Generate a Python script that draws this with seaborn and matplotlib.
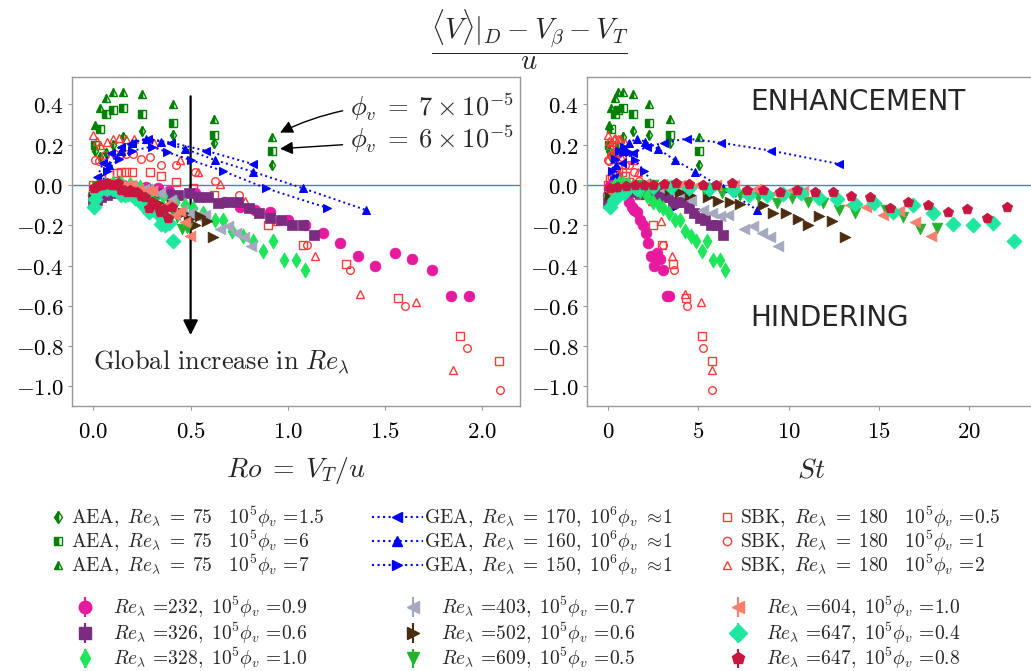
import numpy as np
import matplotlib
matplotlib.use("Agg")
import matplotlib.pyplot as plt
import seaborn as sns
from matplotlib.lines import Line2D
from matplotlib.ticker import FixedLocator, FuncFormatter

sns.set_theme(style="ticks", rc={"axes.edgecolor": "#999999", "xtick.color": "#999999",
                                 "ytick.color": "#999999", "xtick.labelcolor": "black",
                                 "ytick.labelcolor": "black"})
plt.rcParams["mathtext.fontset"] = "cm"
plt.rcParams["font.family"] = ["DejaVu Sans"]

# ---------------- data ----------------
# AEA, Re_lambda = 75 (three volume fractions share the same Ro / St)
aea_ro = [0.008, 0.034, 0.065, 0.10, 0.15, 0.25, 0.41, 0.62, 0.92]
aea_st = [0.04, 0.19, 0.36, 0.55, 0.83, 1.38, 2.26, 3.41, 5.06]
aea15_y = [0.17, 0.14, 0.16, 0.20, 0.24, 0.27, 0.25, 0.21, 0.10]
aea6_y = [0.20, 0.28, 0.35, 0.37, 0.38, 0.35, 0.31, 0.25, 0.17]
aea7_y = [0.30, 0.38, 0.43, 0.46, 0.46, 0.45, 0.40, 0.33, 0.24]

# GEA
gea170_ro = [0.02, 0.05, 0.09, 0.14, 0.20, 0.28, 0.40, 0.58, 0.82]
gea170_st = [0.31, 0.78, 1.40, 2.18, 3.12, 4.37, 6.24, 9.05, 12.8]
gea170_y = [0.04, 0.11, 0.16, 0.19, 0.21, 0.23, 0.21, 0.17, 0.104]
gea160_ro = [0.03, 0.08, 0.14, 0.20, 0.27, 0.35, 0.47, 0.625, 0.82, 1.08, 1.40]
gea160_st = [0.18, 0.47, 0.83, 1.18, 1.59, 2.07, 2.77, 3.69, 4.84, 6.37, 8.26]
gea160_y = [0.02, 0.10, 0.17, 0.21, 0.23, 0.215, 0.18, 0.124, 0.066, -0.017, -0.124]
gea150_ro = [0.03, 0.07, 0.13, 0.20, 0.30, 0.38, 0.50, 0.665, 0.89, 1.20]
gea150_st = [0.09, 0.21, 0.39, 0.60, 0.90, 1.14, 1.50, 2.00, 2.67, 3.60]
gea150_y = [-0.02, 0.07, 0.13, 0.17, 0.19, 0.163, 0.124, 0.07, -0.017, -0.113]

# SBK, Re_lambda = 180
sbk05_ro = [0.0, 0.04, 0.08, 0.12, 0.14, 0.17, 0.20, 0.29, 0.35, 0.425, 0.51, 0.62, 0.90, 1.08, 1.30,
            1.565, 1.886, 2.085]
sbk05_st = [0.0, 0.11, 0.22, 0.33, 0.39, 0.47, 0.55, 0.80, 0.96, 1.17, 1.40, 1.71, 2.48, 2.97, 3.58,
            4.30, 5.19, 5.73]
sbk05_y = [0.0, 0.03, 0.05, 0.058, 0.065, 0.066, 0.066, 0.063, 0.046, 0.013, -0.017, -0.05, -0.20,
           -0.30, -0.39, -0.56, -0.75, -0.873]
sbk1_ro = [0.008, 0.03, 0.06, 0.11, 0.14, 0.17, 0.205, 0.245, 0.29, 0.35, 0.425, 0.52, 0.625, 0.75,
           1.10, 1.32, 1.60, 1.92, 2.09]
sbk1_st = [0.02, 0.08, 0.17, 0.30, 0.39, 0.47, 0.56, 0.67, 0.80, 0.96, 1.17, 1.43, 1.72, 2.06, 3.03,
           3.63, 4.40, 5.28, 5.75]
sbk1_y = [0.124, 0.12, 0.15, 0.155, 0.155, 0.155, 0.155, 0.13, 0.14, 0.10, 0.10, 0.066, 0.02, -0.05,
          -0.30, -0.42, -0.60, -0.81, -1.02]
sbk2_ro = [0.0, 0.02, 0.035, 0.068, 0.10, 0.13, 0.17, 0.21, 0.31, 0.445, 0.54, 0.65, 0.78, 0.946,
           1.14, 1.37, 1.66, 1.85]
sbk2_st = [0.0, 0.06, 0.11, 0.21, 0.31, 0.40, 0.53, 0.65, 0.96, 1.38, 1.67, 2.02, 2.42, 2.93, 3.53,
           4.25, 5.15, 5.74]
sbk2_y = [0.25, 0.22, 0.20, 0.215, 0.23, 0.235, 0.23, 0.23, 0.207, 0.124, 0.066, 0.003, -0.08, -0.18,
          -0.35, -0.54, -0.58, -0.92]

# DNS runs
re232_ro = [0.0, 0.03, 0.06, 0.10, 0.15, 0.21, 0.27, 0.33, 0.39, 0.52, 0.67, 0.755, 0.83, 0.91, 1.00,
            1.09, 1.18, 1.27, 1.36, 1.45, 1.55, 1.64, 1.74, 1.84, 1.93]
re232_st = [0.0, 0.05, 0.11, 0.18, 0.26, 0.37, 0.48, 0.58, 0.69, 0.92, 1.18, 1.33, 1.46, 1.60, 1.76,
            1.92, 2.08, 2.24, 2.39, 2.55, 2.73, 2.89, 3.06, 3.24, 3.40]
re232_y = [-0.05, -0.02, -0.005, 0.0, 0.0, -0.005, -0.008, -0.017, -0.028, -0.04, -0.083, -0.11,
           -0.124, -0.136, -0.174, -0.20, -0.237, -0.286, -0.35, -0.40, -0.34, -0.367, -0.42, -0.55, -0.55]

re326_ro = [0.0, 0.02, 0.04, 0.07, 0.10, 0.14, 0.18, 0.22, 0.27, 0.32, 0.38, 0.437, 0.49, 0.54, 0.59,
            0.64, 0.69, 0.745, 0.80, 0.853, 0.908, 0.963, 1.02, 1.077, 1.135]
re326_st = [0.0, 0.11, 0.22, 0.39, 0.56, 0.78, 1.01, 1.23, 1.51, 1.79, 2.13, 2.45, 2.74, 3.02, 3.30,
            3.58, 3.86, 4.17, 4.48, 4.78, 5.08, 5.39, 5.71, 6.03, 6.36]
re326_y = [-0.09, -0.075, -0.06, -0.05, -0.04, -0.035, -0.03, -0.03, -0.035, -0.04, -0.045, -0.05,
           -0.041, -0.061, -0.061, -0.088, -0.083, -0.083, -0.116, -0.137, -0.162, -0.174, -0.20, -0.20, -0.248]

re328_ro = [0.0, 0.03, 0.06, 0.10, 0.14, 0.19, 0.24, 0.30, 0.36, 0.42, 0.47, 0.51, 0.565, 0.625, 0.665,
            0.715, 0.77, 0.82, 0.87, 0.925, 0.98, 1.04, 1.09]
re328_st = [0.0, 0.18, 0.36, 0.60, 0.83, 1.13, 1.43, 1.79, 2.14, 2.50, 2.80, 3.03, 3.36, 3.72, 3.96,
            4.25, 4.58, 4.88, 5.18, 5.50, 5.83, 6.19, 6.49]
re328_y = [-0.05, -0.02, 0.0, 0.01, 0.01, 0.005, -0.01, -0.03, -0.055, -0.083, -0.10, -0.113, -0.14,
           -0.174, -0.174, -0.228, -0.253, -0.28, -0.326, -0.28, -0.37, -0.372, -0.42]

re403_ro = [0.009, 0.043, 0.086, 0.138, 0.198, 0.259, 0.302, 0.345, 0.397, 0.455, 0.495, 0.534, 0.574,
            0.649, 0.690, 0.733, 0.773, 0.813]
re403_st = [0.1, 0.5, 1.0, 1.6, 2.3, 3.0, 3.5, 4.0, 4.6, 5.28, 5.74, 6.2, 6.66, 7.53, 8.0, 8.5, 8.97, 9.43]
re403_y = [-0.06, -0.03, -0.01, -0.005, -0.01, -0.02, -0.03, -0.041, -0.075, -0.124, -0.137, -0.154,
           -0.149, -0.22, -0.204, -0.237, -0.26, -0.303]

re502_ro = [0.005, 0.028, 0.056, 0.089, 0.127, 0.161, 0.187, 0.213, 0.261, 0.286, 0.317, 0.343, 0.402,
            0.430, 0.463, 0.493, 0.521, 0.549, 0.582, 0.615]
re502_st = [0.1, 0.6, 1.2, 1.9, 2.7, 3.43, 3.98, 4.54, 5.55, 6.1, 6.76, 7.3, 8.57, 9.15, 9.86, 10.5,
            11.1, 11.7, 12.4, 13.1]
re502_y = [-0.05, -0.02, -0.01, -0.01, -0.015, -0.025, -0.037, -0.05, -0.058, -0.078, -0.083, -0.094,
           -0.099, -0.14, -0.14, -0.17, -0.20, -0.154, -0.179, -0.256]

re609_ro = [0.003, 0.021, 0.042, 0.066, 0.089, 0.116, 0.139, 0.166, 0.192, 0.218, 0.246, 0.268, 0.292,
            0.313, 0.337, 0.361, 0.405, 0.430, 0.455, 0.479]
re609_st = [0.1, 0.8, 1.6, 2.5, 3.4, 4.4, 5.3, 6.3, 7.3, 8.3, 9.34, 10.2, 11.1, 11.9, 12.8, 13.7, 15.4,
            16.35, 17.3, 18.2]
re609_y = [-0.03, -0.01, 0.0, 0.0, -0.005, -0.01, -0.02, -0.04, -0.05, -0.06, -0.088, -0.066, -0.083,
           -0.088, -0.124, -0.137, -0.124, -0.16, -0.22, -0.215]

re604_ro = [0.003, 0.014, 0.033, 0.056, 0.083, 0.111, 0.139, 0.167, 0.194, 0.228, 0.258, 0.283, 0.300,
            0.372, 0.397, 0.422, 0.447, 0.472, 0.497]
re604_st = [0.1, 0.5, 1.2, 2.0, 3.0, 4.0, 5.0, 6.0, 7.0, 8.2, 9.3, 10.2, 10.8, 13.4, 14.3, 15.2, 16.1,
            17.0, 17.9]
re604_y = [-0.03, -0.01, 0.0, 0.005, 0.005, 0.0, 0.0, 0.0, 0.0, -0.02, -0.04, -0.025, -0.03, -0.10,
           -0.108, -0.149, -0.128, -0.182, -0.253]

re647a_ro = [0.002, 0.007, 0.016, 0.029, 0.045, 0.064, 0.082, 0.102, 0.126, 0.142, 0.160, 0.176, 0.194,
             0.213, 0.230, 0.249, 0.267, 0.287, 0.307, 0.327, 0.347, 0.367, 0.387, 0.409]
re647a_st = [0.1, 0.4, 0.9, 1.6, 2.5, 3.5, 4.5, 5.6, 6.94, 7.8, 8.8, 9.7, 10.67, 11.7, 12.67, 13.7,
             14.7, 15.8, 16.9, 18.0, 19.1, 20.2, 21.3, 22.5]
re647a_y = [-0.108, -0.07, -0.04, -0.02, -0.01, -0.01, -0.015, -0.02, -0.025, -0.05, -0.05, -0.045,
            -0.041, -0.066, -0.071, -0.096, -0.091, -0.132, -0.099, -0.137, -0.195, -0.20, -0.19, -0.28]

re647b_ro = [0.002, 0.009, 0.018, 0.027, 0.036, 0.045, 0.056, 0.069, 0.082, 0.095, 0.109, 0.125, 0.140,
             0.156, 0.173, 0.190, 0.208, 0.226, 0.245, 0.264, 0.284, 0.302, 0.322, 0.342, 0.362, 0.382, 0.402]
re647b_st = [0.1, 0.5, 1.0, 1.5, 2.0, 2.5, 3.1, 3.77, 4.5, 5.24, 5.98, 6.85, 7.68, 8.57, 9.5, 10.45,
             11.46, 12.44, 13.45, 14.5, 15.6, 16.6, 17.7, 18.8, 19.9, 21.0, 22.1]
re647b_y = [-0.017, -0.01, -0.005, 0.0, 0.0, 0.0, 0.005, 0.008, 0.005, 0.0, 0.0, 0.008, -0.025, -0.025,
            -0.036, -0.025, -0.036, -0.033, -0.055, -0.058, -0.113, -0.083, -0.099, -0.132, -0.121,
            -0.165, -0.108]

y_ticks = [-1.0, -0.8, -0.6, -0.4, -0.2, 0.0, 0.2, 0.4]
ro_ticks = [0.0, 0.5, 1.0, 1.5, 2.0]
st_ticks = [0, 5, 10, 15, 20]

# ---------------- styles ----------------
AEA_C = "green"
GEA_C = "blue"
SBK_C = "#ff3b3b"

aea_sets = [(aea15_y, "d", r"$\mathrm{AEA},\ Re_\lambda\;=\;75\quad 10^5\phi_v\,=\!1.5$"),
            (aea6_y, "s", r"$\mathrm{AEA},\ Re_\lambda\;=\;75\quad 10^5\phi_v\,=\!6$"),
            (aea7_y, "^", r"$\mathrm{AEA},\ Re_\lambda\;=\;75\quad 10^5\phi_v\,=\!7$")]
gea_sets = [(gea170_ro, gea170_st, gea170_y, "<", r"$\mathrm{GEA},\ Re_\lambda\;=\;170,\ 10^6\phi_v\ \approx\!1$"),
            (gea160_ro, gea160_st, gea160_y, "^", r"$\mathrm{GEA},\ Re_\lambda\;=\;160,\ 10^6\phi_v\ \approx\!1$"),
            (gea150_ro, gea150_st, gea150_y, ">", r"$\mathrm{GEA},\ Re_\lambda\;=\;150,\ 10^6\phi_v\ \approx\!1$")]
sbk_sets = [(sbk05_ro, sbk05_st, sbk05_y, "s", r"$\mathrm{SBK},\ Re_\lambda\;=\;180\quad 10^5\phi_v\,=\!0.5$"),
            (sbk1_ro, sbk1_st, sbk1_y, "o", r"$\mathrm{SBK},\ Re_\lambda\;=\;180\quad 10^5\phi_v\,=\!1$"),
            (sbk2_ro, sbk2_st, sbk2_y, "^", r"$\mathrm{SBK},\ Re_\lambda\;=\;180\quad 10^5\phi_v\,=\!2$")]
dns_sets = [(re232_ro, re232_st, re232_y, "o", "#e6199f", r"$Re_\lambda\,=\!232,\ 10^5\phi_v\,=\!0.9$"),
            (re326_ro, re326_st, re326_y, "s", "#7b2b80", r"$Re_\lambda\,=\!326,\ 10^5\phi_v\,=\!0.6$"),
            (re328_ro, re328_st, re328_y, "d", "#1de65b", r"$Re_\lambda\,=\!328,\ 10^5\phi_v\,=\!1.0$"),
            (re403_ro, re403_st, re403_y, "<", "#a6a8c0", r"$Re_\lambda\,=\!403,\ 10^5\phi_v\,=\!0.7$"),
            (re502_ro, re502_st, re502_y, ">", "#4a2c10", r"$Re_\lambda\,=\!502,\ 10^5\phi_v\,=\!0.6$"),
            (re609_ro, re609_st, re609_y, "v", "#23b22d", r"$Re_\lambda\,=\!609,\ 10^5\phi_v\,=\!0.5$"),
            (re604_ro, re604_st, re604_y, "<", "#f97f6c", r"$Re_\lambda\,=\!604,\ 10^5\phi_v\,=\!1.0$"),
            (re647a_ro, re647a_st, re647a_y, "D", "#1ee8a0", r"$Re_\lambda\,=\!647,\ 10^5\phi_v\,=\!0.4$"),
            (re647b_ro, re647b_st, re647b_y, "p", "#c8163e", r"$Re_\lambda\,=\!647,\ 10^5\phi_v\,=\!0.8$")]

W, H = 1031, 671
fig = plt.figure(figsize=(W / 100, H / 100), dpi=100)
ax1 = fig.add_axes([72 / W, 1 - 406 / H, 448 / W, 329 / H])
ax2 = fig.add_axes([587 / W, 1 - 406 / H, 448 / W, 329 / H])

for ax, xi in [(ax1, 0), (ax2, 1)]:
    ax.axhline(0, color="#3f86c8", lw=1, zorder=1)
    for y, m, _ in aea_sets:
        sns.lineplot(x=[aea_ro, aea_st][xi], y=y, ax=ax, marker=m, linestyle="none", color=AEA_C,
                     ms=5.5, mec=AEA_C, mew=1, fillstyle="left", estimator=None, sort=False,
                     legend=False, zorder=3)
    for ro, st, y, m, _ in sbk_sets:
        sns.lineplot(x=[ro, st][xi], y=y, ax=ax, marker=m, linestyle="none", color=SBK_C,
                     ms=5.5, mec=SBK_C, mfc="none", mew=1, estimator=None, sort=False,
                     legend=False, zorder=3)
    for ro, st, y, m, _ in gea_sets:
        sns.lineplot(x=[ro, st][xi], y=y, ax=ax, marker=m, linestyle=":", lw=1.4, color=GEA_C,
                     ms=5.5, mec=GEA_C, estimator=None, sort=False, legend=False, zorder=4)
    for ro, st, y, m, c, _ in dns_sets:
        sns.scatterplot(x=[ro, st][xi], y=y, ax=ax, marker=m, color=c, s=60, edgecolor=c,
                        linewidth=0.5, legend=False, zorder=5)

# axes cosmetics
fmt1 = FuncFormatter(lambda v, p: f"${v:.1f}$")
for ax in (ax1, ax2):
    ax.set_ylim(-1.097, 0.536)
    ax.yaxis.set_major_locator(FixedLocator(y_ticks))
    ax.yaxis.set_major_formatter(fmt1)
    ax.tick_params(labelsize=16.5, length=3, width=0.8)
    ax.tick_params(axis="y", pad=3)
    ax.tick_params(axis="x", pad=7)
    for s in ax.spines.values():
        s.set_color("#999999")
        s.set_linewidth(1)
ax1.set_xlim(-0.110, 2.194)
ax1.xaxis.set_major_locator(FixedLocator(ro_ticks))
ax1.xaxis.set_major_formatter(fmt1)
ax2.set_xlim(-1.163, 23.64)
ax2.xaxis.set_major_locator(FixedLocator(st_ticks))
ax2.xaxis.set_major_formatter(FuncFormatter(lambda v, p: f"${v:.0f}$"))
ax1.set_xlabel(r"$Ro\;=\;V_T/u$", fontsize=20, labelpad=9)
ax2.set_xlabel(r"$St$", fontsize=20, labelpad=9)
ax1.set_ylabel("")
ax2.set_ylabel("")

# annotations
ax1.annotate("", xy=(0.5, -0.745), xytext=(0.5, 0.44),
             arrowprops=dict(arrowstyle="-|>", color="black", lw=1.6, mutation_scale=22,
                             shrinkA=0, shrinkB=0))
ax1.text(0.0, -0.88, r"$\mathrm{Global\ increase\ in}\ Re_\lambda$", fontsize=19, va="center")
ax1.annotate(r"$\phi_v\;=\;7\times10^{-5}$", xy=(0.96, 0.26), xytext=(1.32, 0.385), fontsize=19,
             va="center", arrowprops=dict(arrowstyle="-|>", color="black", lw=1,
                                          connectionstyle="arc3,rad=0.15", shrinkA=3, shrinkB=0))
ax1.annotate(r"$\phi_v\;=\;6\times10^{-5}$", xy=(0.96, 0.18), xytext=(1.32, 0.228), fontsize=19,
             va="center", arrowprops=dict(arrowstyle="-|>", color="black", lw=1,
                                          connectionstyle="arc3,rad=0.0", shrinkA=3, shrinkB=0))
ax2.text(7.86, 0.41, "ENHANCEMENT", fontsize=20, va="center")
ax2.text(7.86, -0.66, "HINDERING", fontsize=20, va="center")

fig.text(530 / W, 1 - 40 / H, r"$\dfrac{\langle V\rangle|_D - V_\beta - V_T}{u}$",
         ha="center", va="center", fontsize=20.5)

# ---------------- legends ----------------
aea_h = [Line2D([], [], marker=m, ls="none", color=AEA_C, mec=AEA_C, fillstyle="left", ms=6)
         for _, m, _ in aea_sets]
gea_h = [Line2D([], [], marker=m, ls=":", lw=1.5, color=GEA_C, ms=7) for _, _, _, m, _ in gea_sets]
sbk_h = [Line2D([], [], marker=m, ls="none", color=SBK_C, mfc="none", mew=1, ms=6)
         for _, _, _, m, _ in sbk_sets]
dns_h = []
for _, _, _, m, c, _ in dns_sets:
    dns_h.append(ax1.errorbar([np.nan], [np.nan], yerr=[0.0], fmt=m, color=c, ms=9, elinewidth=1.5))

leg_kw = dict(loc="center left", frameon=False, fontsize=14, borderpad=0, borderaxespad=0)
y1 = 1 - 541 / H
y2 = 1 - 633 / H
fig.legend(aea_h, [s[2] for s in aea_sets], bbox_to_anchor=(50 / W, y1), handlelength=0.8,
           handletextpad=0.3, labelspacing=-0.06, **leg_kw)
fig.legend(gea_h, [s[4] for s in gea_sets], bbox_to_anchor=(372 / W, y1), handlelength=2.6,
           handletextpad=0.1, labelspacing=-0.06, **leg_kw)
fig.legend(sbk_h, [s[4] for s in sbk_sets], bbox_to_anchor=(719 / W, y1), handlelength=0.8,
           handletextpad=0.3, labelspacing=-0.06, **leg_kw)
for k, x0 in enumerate([66, 394, 719]):
    idx = range(3 * k, 3 * k + 3)
    fig.legend([dns_h[i] for i in idx], [dns_sets[i][5] for i in idx], bbox_to_anchor=(x0 / W, y2),
               handlelength=2.0, handletextpad=0.4, labelspacing=0.02, **leg_kw)

ax1.set_xlim(-0.110, 2.194)
ax1.set_ylim(-1.097, 0.536)
fig.savefig("out.png", dpi=100)
